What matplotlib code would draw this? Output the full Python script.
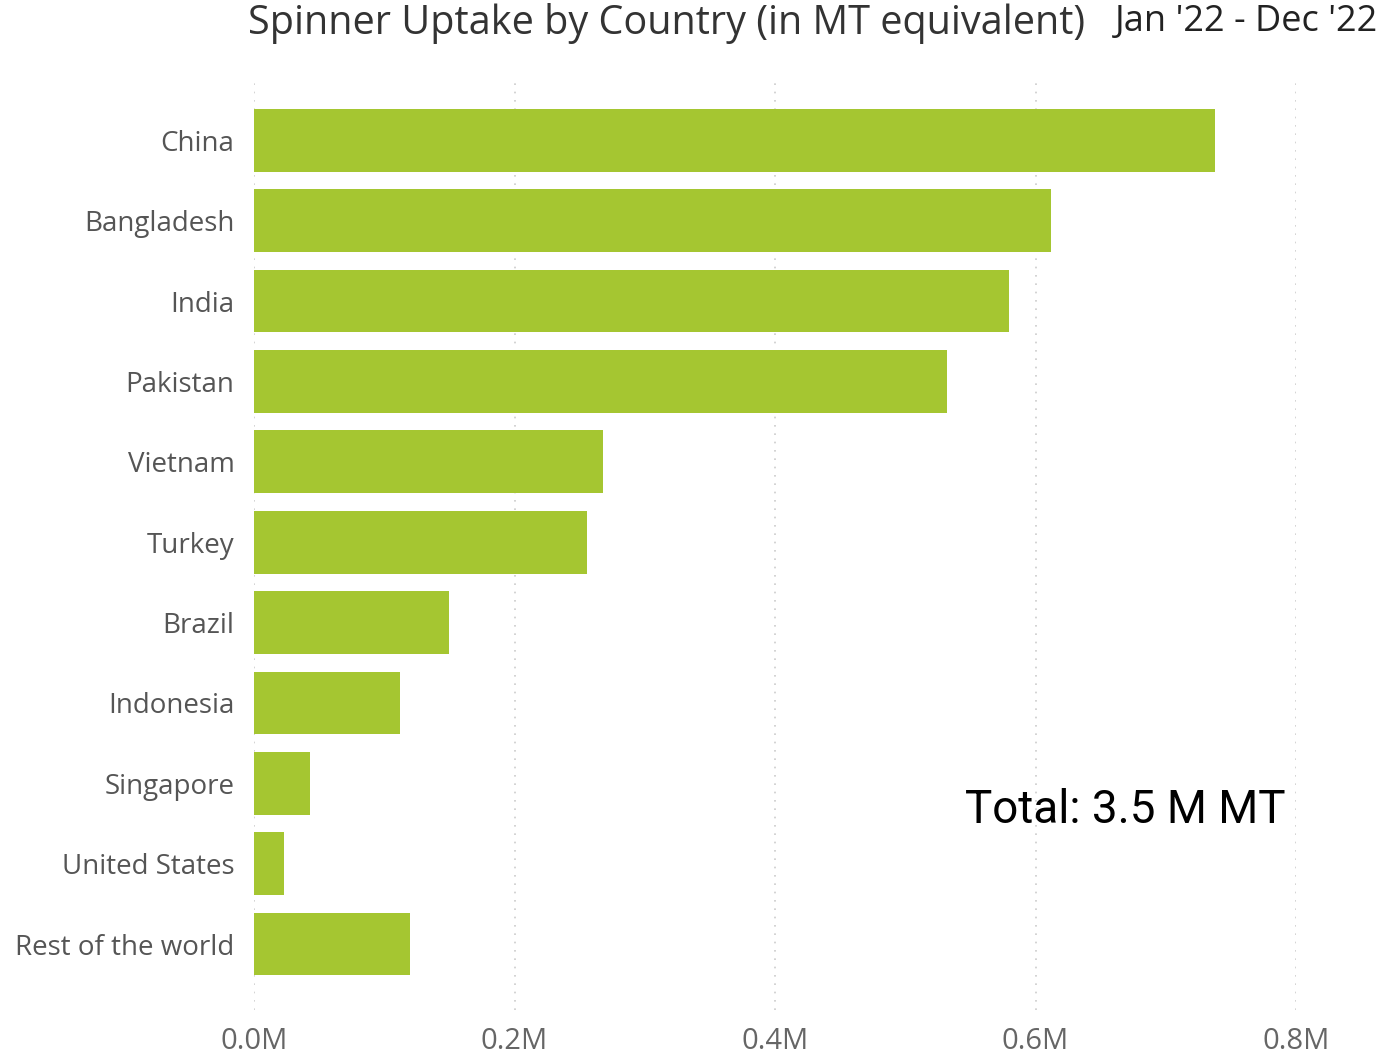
import matplotlib
matplotlib.use("Agg")
import matplotlib.pyplot as plt

countries = ["China", "Bangladesh", "India", "Pakistan", "Vietnam", "Turkey",
             "Brazil", "Indonesia", "Singapore", "United States", "Rest of the world"]
values = [0.738, 0.612, 0.580, 0.532, 0.268, 0.256, 0.150, 0.112, 0.043, 0.023, 0.120]
xticks = [0.0, 0.2, 0.4, 0.6, 0.8]
xtick_labels = ["0.0M", "0.2M", "0.4M", "0.6M", "0.8M"]

fig = plt.figure(figsize=(13.81, 10.56), dpi=100)
ax = fig.add_axes([254/1381, 1 - 1010/1056, (1296-254)/1381, (1010-80)/1056])

ypos = list(range(len(countries)))
ax.barh(ypos, values, height=0.78, color="#A5C631", zorder=3)
ax.set_ylim(10.82, -0.75)
ax.set_xlim(0, 0.8)
ax.set_yticks(ypos)
ax.set_yticklabels(countries, fontsize=20, color="#555555", family="Open Sans")
ax.set_xticks(xticks)
ax.set_xticklabels(xtick_labels, fontsize=21, color="#666666", family="Open Sans")
ax.tick_params(axis="both", length=0)
ax.tick_params(axis="y", pad=14)
ax.tick_params(axis="x", pad=12)
ax.grid(axis="x", linestyle=(0, (1, 4)), color="#cccccc", linewidth=1.2, zorder=0)
for s in ax.spines.values():
    s.set_visible(False)

fig.text(248/1381, 1 - 24/1056, "Spinner Uptake by Country (in MT equivalent)",
         fontsize=28.5, color="#333333", family="Open Sans", va="center", ha="left")
fig.text(1378/1381, 1 - 22/1056, "Jan '22 - Dec '22",
         fontsize=26, color="#222222", family="Open Sans", va="center", ha="right")
fig.text(965/1381, 1 - 810/1056, "Total: 3.5 M MT",
         fontsize=33, color="#000000", family="Roboto", va="center", ha="left")

fig.savefig("out.png", dpi=100)
